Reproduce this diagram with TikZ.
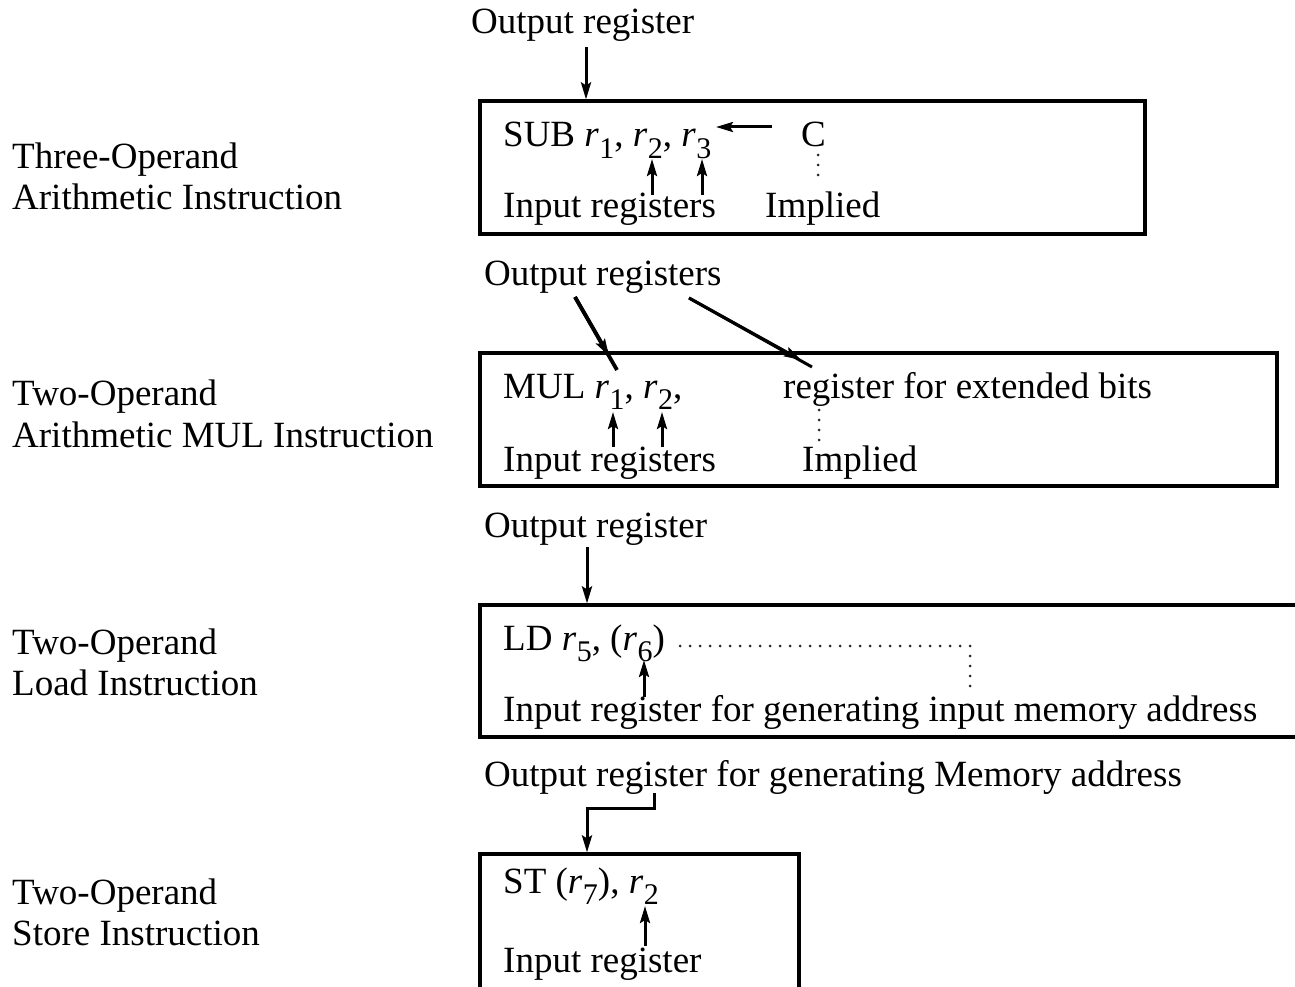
\documentclass[tikz,border=0pt]{standalone}
\usepackage{fontspec}
\setmainfont{Liberation Serif}
\usetikzlibrary{arrows.meta}
% register name with lowered subscript digit
\newcommand{\rg}[1]{\textit{r}\kern0.5pt\raisebox{-0.3em}{\fontsize{30}{30}\selectfont #1}}
\tikzset{
  txt/.style={anchor=base west, inner sep=0pt, font=\fontsize{37}{42}\selectfont},
  insbox/.style={draw, line width=3.2pt, inner sep=0pt},
  arr/.style={line width=3pt, -{Stealth[length=17pt, width=10pt, inset=3pt]}},
  link/.style={line width=3pt},
  dotline/.style={line width=3pt, line cap=round, dash pattern=on 0pt off 10pt, black!85},
}
\begin{document}
\begin{tikzpicture}[x=1pt, y=-1pt]
\useasboundingbox (0,0) rectangle (1295,987);
\fill[white] (0,0) rectangle (1295,987);

% ---------- instruction boxes ----------
\node[insbox, minimum width=665pt, minimum height=133pt] (box1) at (812.5,167.5) {};
\node[insbox, minimum width=797pt, minimum height=133pt] (box2) at (878.5,419.5) {};
\node[insbox, minimum width=850pt, minimum height=132pt] (box3) at (905,671) {};
\node[insbox, minimum width=319pt, minimum height=156pt] (box4) at (639.5,932) {};

% ---------- left-hand captions ----------
\node[txt] (cap1a) at (12,169) {Three-Operand};
\node[txt] (cap1b) at (12,210) {Arithmetic Instruction};
\node[txt] (cap2a) at (12,405) {Two-Operand};
\node[txt] (cap2b) at (12,447) {Arithmetic MUL Instruction};
\node[txt] (cap3a) at (12,654) {Two-Operand};
\node[txt] (cap3b) at (12,695) {Load Instruction};
\node[txt] (cap4a) at (12,904) {Two-Operand};
\node[txt] (cap4b) at (12,945) {Store Instruction};

% ---------- three-operand SUB ----------
\node[txt] (out1) at (471,34) {Output register};
\node[txt] (sub) at (503,147) {SUB \rg{1}, \rg{2}, \rg{3}};
\node[txt] (cflag) at (801,147) {C};
\node[txt] (in1) at (503,218) {Input registers};
\node[txt] (imp1) at (765,218) {Implied};
\coordinate (o1) at (586,47);
\draw[arr] (o1) -- (o1 |- box1.north);
\coordinate (cs) at (772,127);
\coordinate (ce) at (716,127);
\draw[arr] (cs) -- (ce);
\coordinate (c1a) at (818,155);
\coordinate (c1b) at (818,185);
\draw[dotline] (c1a) -- (c1b);
\coordinate (i1a) at (652,195);
\coordinate (i1b) at (652,159);
\draw[arr] (i1a) -- (i1b);
\coordinate (i2a) at (702,195);
\coordinate (i2b) at (702,159);
\draw[arr] (i2a) -- (i2b);

% ---------- two-operand MUL ----------
\node[txt] (out2) at (484,285) {Output registers};
\node[txt] (mul) at (503,398) {MUL \rg{1}, \rg{2},};
\node[txt] (ext) at (783,398) {register for extended bits};
\node[txt] (in2) at (503,471) {Input registers};
\node[txt] (imp2) at (802,471) {Implied};
\coordinate (m1s) at (575,297);
\coordinate (m1t) at (609,356);
\coordinate (m1e) at (617,370);
\draw[link, line width=3.8pt] (m1s) -- (m1e);
\draw[arr, line width=3.6pt] (m1s) -- (m1t);
\coordinate (m2s) at (689,298);
\coordinate (m2t) at (801,360);
\coordinate (m2e) at (812,367);
\draw[link] (m2s) -- (m2e);
\draw[arr] (m2s) -- (m2t);
\coordinate (d2a) at (819,410);
\coordinate (d2b) at (819,440);
\draw[dotline] (d2a) -- (d2b);
\coordinate (j1a) at (613,447);
\coordinate (j1b) at (613,412);
\draw[arr] (j1a) -- (j1b);
\coordinate (j2a) at (662,447);
\coordinate (j2b) at (662,412);
\draw[arr] (j2a) -- (j2b);

% ---------- two-operand load ----------
\node[txt] (out3) at (484,537) {Output register};
\node[txt] (ld) at (503,650) {LD \rg{5}, (\rg{6})};
\node[txt] (in3) at (503,721) {Input register for generating input memory address};
\coordinate (o3) at (587,547);
\draw[arr] (o3) -- (o3 |- box3.north);
\coordinate (d3a) at (680,646);
\coordinate (d3b) at (970,646);
\coordinate (d3c) at (970,696);
\draw[dotline] (d3a) -- (d3b) -- (d3c);
\coordinate (k1a) at (644,697);
\coordinate (k1b) at (644,660);
\draw[arr] (k1a) -- (k1b);

% ---------- two-operand store ----------
\node[txt] (out4) at (484,786) {Output register for generating Memory address};
\node[txt] (st) at (503,893) {ST (\rg{7}), \rg{2}};
\node[txt] (in4) at (503,972) {Input register};
\coordinate (s4a) at (654,793);
\coordinate (s4b) at (654,808);
\coordinate (s4c) at (587,808);
\draw[arr] (s4a) -- (s4b) -- (s4c) -- (s4c |- box4.north);
\coordinate (l1a) at (645,946);
\coordinate (l1b) at (645,906);
\draw[arr] (l1a) -- (l1b);
\end{tikzpicture}
\end{document}
